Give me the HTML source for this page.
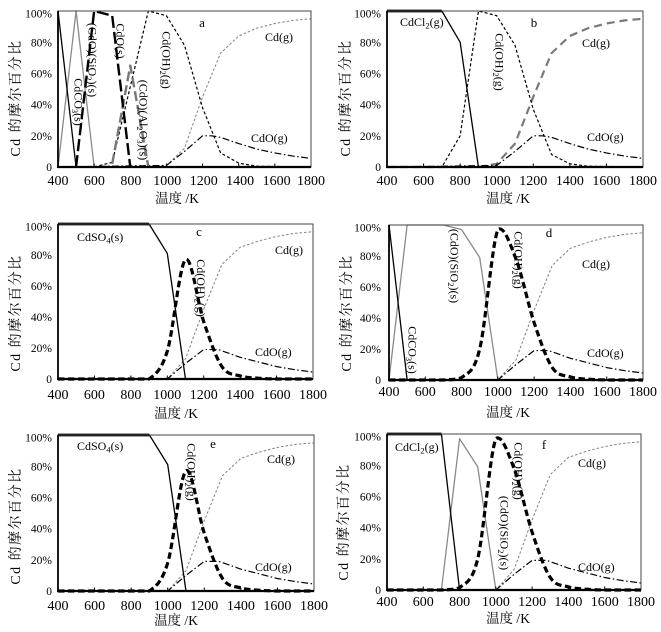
<!DOCTYPE html>
<html><head><meta charset="utf-8">
<style>
html,body{margin:0;padding:0;background:#fff;}
svg{display:block;}
text{font-family:"Liberation Serif","Noto Serif CJK SC",serif;fill:#000;}
.yt{font-size:11.5px;text-anchor:end;}
.xt{font-size:14px;text-anchor:middle;}
.xl{font-size:13.5px;text-anchor:middle;}
.yl{font-size:14px;text-anchor:middle;letter-spacing:1.5px;}
.lb{font-size:12px;}
.lt{font-size:13px;text-anchor:middle;}
</style></head><body>
<svg id="s" width="661" height="632" viewBox="0 0 661 632" xmlns="http://www.w3.org/2000/svg">
<rect width="661" height="632" fill="#fff"/>
<g id="lines"></g>
<g id="axes"></g>

<!-- Panel tick/axis text groups -->
<g transform="translate(58,11)">
<text class="yt" x="-6" y="160">0</text><text class="yt" x="-6" y="128.8">20%</text><text class="yt" x="-6" y="97.6">40%</text><text class="yt" x="-6" y="66.4">60%</text><text class="yt" x="-6" y="35.5">80%</text><text class="yt" x="-6" y="6.5">100%</text>
<text class="xt" x="0" y="174">400</text><text class="xt" x="36.4" y="174">600</text><text class="xt" x="72.9" y="174">800</text><text class="xt" x="109.3" y="174">1000</text><text class="xt" x="145.7" y="174">1200</text><text class="xt" x="182.1" y="174">1400</text><text class="xt" x="218.6" y="174">1600</text><text class="xt" x="253" y="174">1800</text>
<text class="xl" x="119" y="192">温度 /K</text>
<text class="yl" transform="translate(-38,87) rotate(-90)">Cd 的摩尔百分比</text>
</g>
<g transform="translate(387,11)">
<text class="yt" x="-6" y="160">0</text><text class="yt" x="-6" y="128.8">20%</text><text class="yt" x="-6" y="97.6">40%</text><text class="yt" x="-6" y="66.4">60%</text><text class="yt" x="-6" y="35.5">80%</text><text class="yt" x="-6" y="6.5">100%</text>
<text class="xt" x="0" y="174">400</text><text class="xt" x="36.6" y="174">600</text><text class="xt" x="73.1" y="174">800</text><text class="xt" x="109.7" y="174">1000</text><text class="xt" x="146.3" y="174">1200</text><text class="xt" x="182.9" y="174">1400</text><text class="xt" x="219.4" y="174">1600</text><text class="xt" x="256" y="174">1800</text>
<text class="xl" x="121" y="192">温度 /K</text>
<text class="yl" transform="translate(-37,87) rotate(-90)">Cd 的摩尔百分比</text>
</g>
<g transform="translate(58,224)">
<text class="yt" x="-6" y="159">0</text><text class="yt" x="-6" y="128">20%</text><text class="yt" x="-6" y="97">40%</text><text class="yt" x="-6" y="66">60%</text><text class="yt" x="-6" y="35">80%</text><text class="yt" x="-6" y="6.5">100%</text>
<text class="xt" x="0" y="175">400</text><text class="xt" x="36.4" y="175">600</text><text class="xt" x="72.9" y="175">800</text><text class="xt" x="109.3" y="175">1000</text><text class="xt" x="145.7" y="175">1200</text><text class="xt" x="182.1" y="175">1400</text><text class="xt" x="218.6" y="175">1600</text><text class="xt" x="255" y="175">1800</text>
<text class="xl" x="118" y="194">温度 /K</text>
<text class="yl" transform="translate(-38,89) rotate(-90)">Cd 的摩尔百分比</text>
</g>
<g transform="translate(389,225)">
<text class="yt" x="-8" y="159">0</text><text class="yt" x="-8" y="128">20%</text><text class="yt" x="-8" y="97">40%</text><text class="yt" x="-8" y="66">60%</text><text class="yt" x="-8" y="35">80%</text><text class="yt" x="-8" y="6.5">100%</text>
<text class="xt" x="0" y="171">400</text><text class="xt" x="36.3" y="171">600</text><text class="xt" x="72.6" y="171">800</text><text class="xt" x="108.9" y="171">1000</text><text class="xt" x="145.1" y="171">1200</text><text class="xt" x="181.4" y="171">1400</text><text class="xt" x="217.7" y="171">1600</text><text class="xt" x="254" y="171">1800</text>
<text class="xl" x="119" y="192">温度 /K</text>
<text class="yl" transform="translate(-38,88) rotate(-90)">Cd 的摩尔百分比</text>
</g>
<g transform="translate(58,435)">
<text class="yt" x="-6" y="160">0</text><text class="yt" x="-6" y="128.8">20%</text><text class="yt" x="-6" y="97.6">40%</text><text class="yt" x="-6" y="66.4">60%</text><text class="yt" x="-6" y="35.5">80%</text><text class="yt" x="-6" y="6.5">100%</text>
<text class="xt" x="0" y="175">400</text><text class="xt" x="36.6" y="175">600</text><text class="xt" x="73.1" y="175">800</text><text class="xt" x="109.7" y="175">1000</text><text class="xt" x="146.3" y="175">1200</text><text class="xt" x="182.9" y="175">1400</text><text class="xt" x="219.4" y="175">1600</text><text class="xt" x="256" y="175">1800</text>
<text class="xl" x="118" y="190">温度 /K</text>
<text class="yl" transform="translate(-38,91) rotate(-90)">Cd 的摩尔百分比</text>
</g>
<g transform="translate(387,434)">
<text class="yt" x="-6" y="160">0</text><text class="yt" x="-6" y="128.8">20%</text><text class="yt" x="-6" y="97.6">40%</text><text class="yt" x="-6" y="66.4">60%</text><text class="yt" x="-6" y="35.5">80%</text><text class="yt" x="-6" y="6.5">100%</text>
<text class="xt" x="0" y="172">400</text><text class="xt" x="36.3" y="172">600</text><text class="xt" x="72.6" y="172">800</text><text class="xt" x="108.9" y="172">1000</text><text class="xt" x="145.1" y="172">1200</text><text class="xt" x="181.4" y="172">1400</text><text class="xt" x="217.7" y="172">1600</text><text class="xt" x="254" y="172">1800</text>
<text class="xl" x="121" y="189">温度 /K</text>
<text class="yl" transform="translate(-39,88) rotate(-90)">Cd 的摩尔百分比</text>
</g>

<!-- Panel a labels -->
<text class="lb" text-anchor="middle" transform="translate(88.5,60) rotate(90)">(CdO)(SiO<tspan font-size="8.5" dy="2.5">2</tspan><tspan dy="-2.5">)(s)</tspan></text>
<text class="lb" text-anchor="middle" transform="translate(74.5,102) rotate(90)">CdCO<tspan font-size="8.5" dy="2.5">3</tspan><tspan dy="-2.5">(s)</tspan></text>
<text class="lb" text-anchor="middle" transform="translate(116.5,41) rotate(90)">CdO(s)</text>
<text class="lb" text-anchor="middle" transform="translate(139.5,120) rotate(90)">(CdO)(Al<tspan font-size="8.5" dy="2.5">2</tspan><tspan dy="-2.5">O</tspan><tspan font-size="8.5" dy="2.5">3</tspan><tspan dy="-2.5">)(s)</tspan></text>
<text class="lb" text-anchor="middle" transform="translate(162.5,60) rotate(90)">Cd(OH)<tspan font-size="8.5" dy="2.5">2</tspan><tspan dy="-2.5">(g)</tspan></text>
<text class="lb" x="265" y="41">Cd(g)</text>
<text class="lb" x="251" y="142">CdO(g)</text>
<text class="lt" x="202" y="27">a</text>

<!-- Panel b labels -->
<text class="lb" x="400" y="26">CdCl<tspan font-size="8.5" dy="2.5">2</tspan><tspan dy="-2.5">(g)</tspan></text>
<text class="lt" x="534" y="27">b</text>
<text class="lb" text-anchor="middle" transform="translate(495.5,62) rotate(90)">Cd(OH)<tspan font-size="8.5" dy="2.5">2</tspan><tspan dy="-2.5">(g)</tspan></text>
<text class="lb" x="582" y="47">Cd(g)</text>
<text class="lb" x="587" y="141">CdO(g)</text>

<!-- Panel c labels -->
<text class="lb" x="77" y="241">CdSO<tspan font-size="8.5" dy="2.5">4</tspan><tspan dy="-2.5">(s)</tspan></text>
<text class="lt" x="199" y="236">c</text>
<text class="lb" text-anchor="middle" transform="translate(197,288) rotate(90)">Cd(OH)<tspan font-size="8.5" dy="2.5">2</tspan><tspan dy="-2.5">(g)</tspan></text>
<text class="lb" x="275" y="254">Cd(g)</text>
<text class="lb" x="255" y="356">CdO(g)</text>

<!-- Panel d labels -->
<text class="lb" text-anchor="middle" transform="translate(450.5,266) rotate(90)">(CdO)(SiO<tspan font-size="8.5" dy="2.5">2</tspan><tspan dy="-2.5">)(s)</tspan></text>
<text class="lb" text-anchor="middle" transform="translate(408.5,350) rotate(90)">CdCO<tspan font-size="8.5" dy="2.5">3</tspan><tspan dy="-2.5">(s)</tspan></text>
<text class="lb" text-anchor="middle" transform="translate(514.5,260) rotate(90)">Cd(OH)<tspan font-size="8.5" dy="2.5">2</tspan><tspan dy="-2.5">(g)</tspan></text>
<text class="lt" x="549" y="237">d</text>
<text class="lb" x="582" y="268">Cd(g)</text>
<text class="lb" x="587" y="357">CdO(g)</text>

<!-- Panel e labels -->
<text class="lb" x="77" y="450">CdSO<tspan font-size="8.5" dy="2.5">4</tspan><tspan dy="-2.5">(s)</tspan></text>
<text class="lb" text-anchor="middle" transform="translate(187.5,472) rotate(90)">Cd(OH)<tspan font-size="8.5" dy="2.5">2</tspan><tspan dy="-2.5">(g)</tspan></text>
<text class="lt" x="213" y="448">e</text>
<text class="lb" x="267" y="463">Cd(g)</text>
<text class="lb" x="255" y="571">CdO(g)</text>

<!-- Panel f labels -->
<text class="lb" x="395" y="451">CdCl<tspan font-size="8.5" dy="2.5">2</tspan><tspan dy="-2.5">(g)</tspan></text>
<text class="lb" text-anchor="middle" transform="translate(514.5,471) rotate(90)">Cd(OH)<tspan font-size="8.5" dy="2.5">2</tspan><tspan dy="-2.5">(g)</tspan></text>
<text class="lt" x="544" y="449">f</text>
<text class="lb" text-anchor="middle" transform="translate(500.5,533) rotate(90)">(CdO)(SiO<tspan font-size="8.5" dy="2.5">2</tspan><tspan dy="-2.5">)(s)</tspan></text>
<text class="lb" x="578" y="467">Cd(g)</text>
<text class="lb" x="578" y="571">CdO(g)</text>
</svg>

<script>
(function(){
var NS="http://www.w3.org/2000/svg";
var L=document.getElementById("lines"), A=document.getElementById("axes");
var P={
 a:{x0:58,x1:311,y0:11,y1:167},
 b:{x0:387,x1:643,y0:11,y1:167},
 c:{x0:58,x1:313,y0:224,y1:379},
 d:{x0:389,x1:643,y0:225,y1:380},
 e:{x0:58,x1:314,y0:435,y1:591},
 f:{x0:387,x1:641,y0:434,y1:590}
};
function X(p,T){return p.x0+(T-400)/1400*(p.x1-p.x0);}
function Y(p,v){return p.y1-v/100*(p.y1-p.y0);}
function lin(p,pts){var d="";for(var i=0;i<pts.length;i++){d+=(i?"L":"M")+X(p,pts[i][0]).toFixed(2)+" "+Y(p,pts[i][1]).toFixed(2);}return d;}
function cl(p,v){return Math.min(Math.max(v,p.y0),p.y1);}
function smooth(p,pts){
 var q=pts.map(function(a){return [X(p,a[0]),Y(p,a[1])];});
 var d="M"+q[0][0].toFixed(2)+" "+q[0][1].toFixed(2);
 for(var i=0;i<q.length-1;i++){
  var p0=q[Math.max(i-1,0)],p1=q[i],p2=q[i+1],p3=q[Math.min(i+2,q.length-1)];
  var c1x=p1[0]+(p2[0]-p0[0])/6,c1y=cl(p,p1[1]+(p2[1]-p0[1])/6);
  var c2x=p2[0]-(p3[0]-p1[0])/6,c2y=cl(p,p2[1]-(p3[1]-p1[1])/6);
  d+="C"+c1x.toFixed(2)+" "+c1y.toFixed(2)+" "+c2x.toFixed(2)+" "+c2y.toFixed(2)+" "+p2[0].toFixed(2)+" "+p2[1].toFixed(2);
 }
 return d;
}
function path(g,d,st,w,dash){
 var e=document.createElementNS(NS,"path");
 e.setAttribute("d",d);e.setAttribute("fill","none");e.setAttribute("stroke",st);
 e.setAttribute("stroke-width",w);e.setAttribute("stroke-linejoin","round");
 if(dash)e.setAttribute("stroke-dasharray",dash);
 g.appendChild(e);
}
var S={
 K1:["#000",1.3,null],
 G1:["#8a8a8a",1.3,null],
 LK:["#000",2.4,"12 4"],
 LGa:["#777",2.4,"10 4"],
 LG:["#7a7a7a",2.2,"8 5"],
 SK:["#000",1.2,"3 2.2"],
 SG:["#808080",1,"2.5 2"],
 DD:["#000",1.2,"7 2.5 1.5 2.5"],
 TK:["#000",3.2,"6.5 3.5"],
 TOP:["#000",2.8,null]
};
function draw(k,series){
 var p=P[k];
 series.forEach(function(s){
  var st=S[s[0]];
  var d=s[2]?smooth(p,s[1]):lin(p,s[1]);
  path(L,d,st[0],st[1],st[2]);
 });
}
var SGc=[[400,0],[1000,0],[1100,13],[1200,45],[1300,74],[1400,85],[1500,89],[1600,92],[1700,94],[1800,95]];
var DDc=[[400,0],[1000,0],[1100,10],[1200,19],[1280,19],[1400,14],[1500,11],[1600,8],[1700,6],[1800,4.5]];
var TKc=[[400,0],[700,0],[800,0],[900,0],[1000,18],[1100,77],[1200,37],[1300,8],[1400,2],[1500,0.5],[1600,0],[1700,0],[1800,0]];
var TKd=[[400,0],[600,0],[700,0],[800,1.5],[900,20],[1000,97],[1100,78],[1200,37],[1300,8],[1400,2],[1500,0.5],[1600,0],[1700,0],[1800,0]];
draw("a",[
 ["SG",[[400,0],[1000,1],[1100,12],[1200,45],[1300,73],[1400,84],[1500,89],[1600,92],[1700,94],[1800,95]]],
 ["DD",[[400,0],[1000,1],[1100,10],[1200,20],[1250,20],[1300,19],[1400,15],[1500,11.5],[1600,9],[1700,7],[1800,5.5]]],
 ["SK",[[400,0],[600,0],[700,3],[900,100],[1000,97],[1100,78],[1200,38],[1300,9],[1400,2.5],[1500,0.5],[1800,0]]],
 ["LGa",[[700,2],[800,65],[900,0]]],
 ["G1",[[400,0],[500,100],[600,0]]],
 ["LK",[[500,0],[600,100],[700,97],[800,0]]],
 ["K1",[[400,100],[500,0]]]
]);
draw("b",[
 ["LG",[[400,0],[900,0],[1000,2],[1100,15],[1200,45],[1300,73],[1400,84],[1500,89],[1600,92],[1700,94],[1800,95]]],
 ["DD",[[400,0],[1000,1],[1100,10],[1200,20],[1250,20],[1300,19],[1400,15],[1500,11.5],[1600,9],[1700,7],[1800,5.5]]],
 ["SK",[[400,0],[700,0],[800,20],[900,100],[1000,97],[1100,78],[1200,37],[1300,8],[1400,2],[1500,0.5],[1800,0]]],
 ["K1",[[400,100],[700,100],[800,80],[900,0],[1800,0]]],
 ["TOP",[[400,100],[700,100]]]
]);
["c","e"].forEach(function(k){
 draw(k,[
  ["SG",SGc],["DD",DDc],
  ["TK",TKc,1],
  ["K1",[[400,100],[900,100],[1000,81],[1100,0],[1800,0]]],
  ["TOP",[[400,100],[900,100]]]
 ]);
});
draw("d",[
 ["SG",SGc],["DD",DDc],
 ["G1",[[400,0],[500,100],[700,100],[800,97],[900,79],[1000,0]]],
 ["TK",TKd,1],
 ["K1",[[400,100],[500,0],[1800,0]]]
]);
draw("f",[
 ["SG",SGc],["DD",DDc],
 ["G1",[[400,0],[700,0],[800,97],[900,79],[1000,0]]],
 ["TK",TKd,1],
 ["K1",[[400,100],[700,100],[800,0],[1800,0]]],
 ["TOP",[[400,100],[700,100]]]
]);
Object.keys(P).forEach(function(k){
 var p=P[k];
 var r=document.createElementNS(NS,"rect");
 r.setAttribute("x",p.x0);r.setAttribute("y",p.y0);r.setAttribute("width",p.x1-p.x0);r.setAttribute("height",p.y1-p.y0);
 r.setAttribute("fill","none");r.setAttribute("stroke","#444");r.setAttribute("stroke-width","1");
 A.appendChild(r);
 path(A,"M"+p.x0+" "+p.y0+"L"+p.x0+" "+p.y1,"#000",1.8);
 path(A,"M"+(p.x0-1)+" "+p.y1+"L"+p.x1+" "+p.y1,"#000",2.2);
 for(var T=600;T<1800;T+=200){var x=X(p,T).toFixed(2);path(A,"M"+x+" "+p.y1+"L"+x+" "+(p.y1-3.5),"#000",1);}
});
})();
</script>
</body></html>
